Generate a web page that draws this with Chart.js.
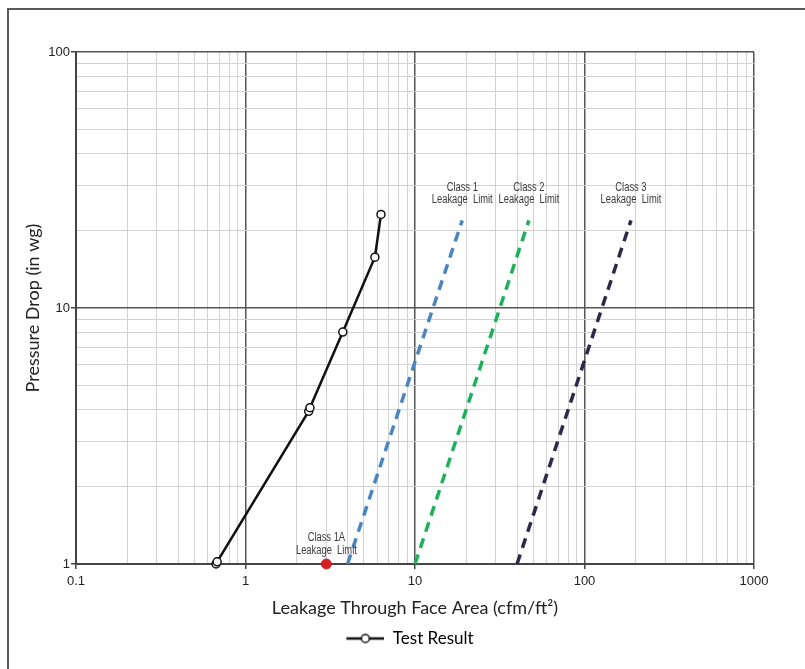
<!DOCTYPE html>
<html>
<head>
<meta charset="utf-8">
<script src="https://cdn.jsdelivr.net/npm/chart.js@4/dist/chart.umd.min.js"></script>
<style>
  html, body { margin: 0; padding: 0; background: #fff; }
  #wrap { width: 805px; height: 669px; position: relative; }
</style>
</head>
<body>
<div id="wrap"><canvas id="leakChart" width="805" height="669"></canvas></div>
<script>
// ------------------------------------------------------------
// Data
// ------------------------------------------------------------
const testLeakage = [0.67, 0.68, 2.36, 2.40, 3.75, 5.8, 6.3];
const testPressure = [1.0, 1.02, 3.95, 4.08, 8.05, 15.8, 23.2];

const class1Leakage = [4.0, 19.0];
const class1Pressure = [1, 22];
const class2Leakage = [10, 47];
const class2Pressure = [1, 22];
const class3Leakage = [40, 188];
const class3Pressure = [1, 22];

const class1ALeakage = [3.0];
const class1APressure = [1];

const xTickLabels = [0.1, 1, 10, 100, 1000];
const yTickLabels = [1, 10, 100];

const classLabels = [
  { text: ['Class 1', 'Leakage  Limit'], x: class1Leakage[1], y: class1Pressure[1], dy: -33 },
  { text: ['Class 2', 'Leakage  Limit'], x: class2Leakage[1], y: class2Pressure[1], dy: -33 },
  { text: ['Class 3', 'Leakage  Limit'], x: class3Leakage[1], y: class3Pressure[1], dy: -33 },
  { text: ['Class 1A', 'Leakage  Limit'], x: class1ALeakage[0], y: class1APressure[0], dy: -26 }
];

function pairs(xs, ys) {
  return xs.map((x, i) => ({ x: x, y: ys[i] }));
}

// log grid: 1..9 in every decade between min and max
function logTicks(min, max, labels) {
  const out = [];
  for (let d = min; d < max * 0.999; d *= 10) {
    for (let k = 1; k <= 9; k++) {
      const v = Number((d * k).toPrecision(6));
      out.push({ value: v, major: labels.some(l => Math.abs(l - v) < 1e-9) });
    }
  }
  out.push({ value: max, major: true });
  return out;
}

const NARROW = "'Liberation Sans Narrow', 'Arial Narrow', 'Liberation Sans', sans-serif";
const MAJOR = '#555';
const MINOR = '#d2d2d2';

// legend marker: line with an open circle (blank on the left to shift the item)
const legendMark = document.createElement('canvas');
legendMark.width = 104;
legendMark.height = 12;
(function () {
  const c = legendMark.getContext('2d');
  c.strokeStyle = '#111';
  c.lineWidth = 2.5;
  c.beginPath();
  c.moveTo(66, 6);
  c.lineTo(104, 6);
  c.stroke();
  c.fillStyle = '#fff';
  c.lineWidth = 1.5;
  c.beginPath();
  c.arc(85, 6, 4, 0, Math.PI * 2);
  c.fill();
  c.stroke();
})();

// outer frame (top and left only, as in the scan)
const framePlugin = {
  id: 'frame',
  beforeDraw(chart) {
    const ctx = chart.ctx;
    ctx.save();
    ctx.fillStyle = '#fff';
    ctx.fillRect(0, 0, chart.width, chart.height);
    ctx.strokeStyle = '#5a5a5a';
    ctx.lineWidth = 2;
    ctx.beginPath();
    ctx.moveTo(8, chart.height);
    ctx.lineTo(8, 9);
    ctx.lineTo(chart.width, 9);
    ctx.stroke();
    ctx.restore();
  }
};

// class limit labels, squeezed to look like a narrow face
const labelPlugin = {
  id: 'classLabels',
  afterDatasetsDraw(chart) {
    const ctx = chart.ctx;
    const xs = chart.scales.x;
    const ys = chart.scales.y;
    classLabels.forEach(l => {
      const px = xs.getPixelForValue(l.x);
      const py = ys.getPixelForValue(l.y) + l.dy;
      ctx.save();
      ctx.translate(px, py);
      ctx.scale(0.78, 1);
      ctx.font = '12px ' + NARROW;
      ctx.fillStyle = '#3a3a3a';
      ctx.textAlign = 'center';
      ctx.textBaseline = 'middle';
      ctx.fillText(l.text[0], 0, 0);
      ctx.fillText(l.text[1], 0, 12.5);
      ctx.restore();
    });
  }
};

const dash = [10, 7];

new Chart(document.getElementById('leakChart'), {
  type: 'scatter',
  data: {
    datasets: [
      {
        label: 'Test Result',
        data: pairs(testLeakage, testPressure),
        showLine: true,
        borderColor: '#111',
        borderWidth: 2.5,
        pointRadius: 4,
        pointBackgroundColor: '#fff',
        pointBorderColor: '#111',
        pointBorderWidth: 1.5,
        pointStyle: 'circle',
        clip: false,
        order: 0
      },
      {
        label: 'Class 1',
        data: pairs(class1Leakage, class1Pressure),
        showLine: true,
        borderColor: '#4a85c3',
        borderWidth: 3.5,
        borderDash: dash,
        pointRadius: 0,
        clip: false
      },
      {
        label: 'Class 2',
        data: pairs(class2Leakage, class2Pressure),
        showLine: true,
        borderColor: '#1db25a',
        borderWidth: 3.5,
        borderDash: dash,
        pointRadius: 0,
        clip: false
      },
      {
        label: 'Class 3',
        data: pairs(class3Leakage, class3Pressure),
        showLine: true,
        borderColor: '#2b2a4c',
        borderWidth: 3.5,
        borderDash: dash,
        pointRadius: 0,
        clip: false
      },
      {
        label: 'Class 1A',
        data: pairs(class1ALeakage, class1APressure),
        pointRadius: 5,
        pointBackgroundColor: '#d21f26',
        pointBorderColor: '#d21f26',
        clip: false
      }
    ]
  },
  options: {
    responsive: false,
    animation: false,
    layout: { padding: { top: 52, left: 0, right: 51, bottom: 12 } },
    plugins: {
      tooltip: { enabled: false },
      legend: {
        position: 'bottom',
        labels: {
          usePointStyle: true,
          pointStyleWidth: 104,
          padding: 8,
          color: '#222',
          font: { family: 'Lato', size: 17 },
          generateLabels: chart => [{
            text: 'Test Result',
            pointStyle: legendMark,
            fillStyle: '#fff',
            strokeStyle: '#111',
            lineWidth: 0,
            datasetIndex: 0,
            hidden: false
          }]
        }
      }
    },
    scales: {
      x: {
        type: 'logarithmic',
        min: 0.1,
        max: 1000,
        afterBuildTicks: s => { s.ticks = logTicks(0.1, 1000, xTickLabels); },
        afterFit: s => { s.height = 58; },
        border: { color: '#444', width: 2 },
        grid: {
          color: c => (c.tick && c.tick.major ? MAJOR : MINOR),
          lineWidth: c => (c.tick && c.tick.major ? 1.5 : 1),
          tickLength: 5,
          tickColor: c => (c.tick && c.tick.major ? '#444' : 'rgba(0,0,0,0)')
        },
        ticks: {
          autoSkip: false,
          maxRotation: 0,
          padding: 5,
          color: '#222',
          font: { family: NARROW, size: 13 },
          callback: v => (xTickLabels.some(l => Math.abs(l - v) < 1e-9) ? String(v) : '')
        },
        title: {
          display: true,
          text: 'Leakage Through Face Area (cfm/ft²)',
          color: '#222',
          font: { family: 'Lato', size: 18 },
          padding: { top: 0, bottom: 3 }
        }
      },
      y: {
        type: 'logarithmic',
        min: 1,
        max: 100,
        afterBuildTicks: s => { s.ticks = logTicks(1, 100, yTickLabels); },
        afterFit: s => { s.width = 76; },
        border: { color: '#444', width: 2 },
        grid: {
          color: c => (c.tick && c.tick.major ? MAJOR : MINOR),
          lineWidth: c => (c.tick && c.tick.major ? 1.5 : 1),
          tickLength: 5,
          tickColor: c => (c.tick && c.tick.major ? '#444' : 'rgba(0,0,0,0)')
        },
        ticks: {
          autoSkip: false,
          padding: 1,
          color: '#222',
          font: { family: NARROW, size: 13 },
          callback: v => (yTickLabels.some(l => Math.abs(l - v) < 1e-9) ? String(v) : '')
        },
        title: {
          display: true,
          text: 'Pressure Drop (in wg)',
          color: '#222',
          font: { family: 'Lato', size: 18 },
          padding: { top: 22, bottom: 0 }
        }
      }
    }
  },
  plugins: [framePlugin, labelPlugin]
});
</script>
</body>
</html>
